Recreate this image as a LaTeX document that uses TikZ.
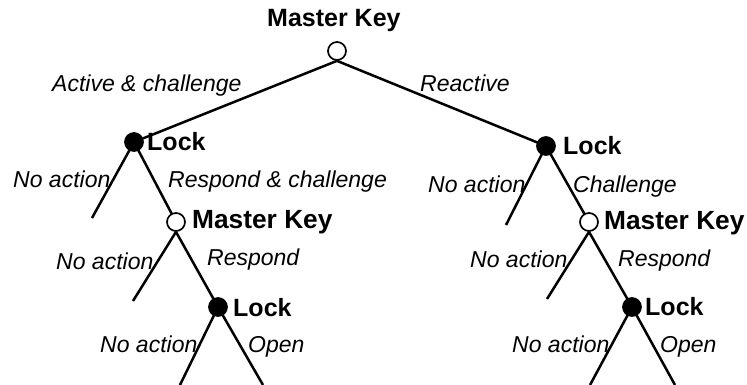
\documentclass[tikz,border=0pt]{standalone}
\usepackage{fontspec}
\setmainfont{Liberation Sans}
\usetikzlibrary{backgrounds}
\begin{document}
\begin{tikzpicture}[x=1pt,y=-1pt,
  player/.style={circle,draw,line width=1.7pt,minimum size=18pt,inner sep=0pt},
  keynode/.style={player,fill=white},
  locknode/.style={player,fill=black},
  who/.style={anchor=base west,inner sep=0pt,font=\fontsize{25}{28}\selectfont\bfseries},
  bigwho/.style={who,font=\fontsize{26.3}{30}\selectfont\bfseries},
  act/.style={anchor=base west,inner sep=0pt,font=\fontsize{23}{26}\selectfont\itshape},
  branch/.style={line width=2.5pt}]
\useasboundingbox (0,0) rectangle (747,385);

% decision nodes
\node[keynode]  (r)   at (337,51)  {};
\node[locknode] (la)  at (134,142) {};
\node[keynode]  (lb)  at (176,222) {};
\node[locknode] (lc)  at (218,307) {};
\node[locknode] (ra)  at (546,146) {};
\node[keynode]  (rb)  at (589,222) {};
\node[locknode] (rc)  at (632,307) {};

% leaf ends
\coordinate (la0) at (92,218);
\coordinate (lb0) at (133,301);
\coordinate (lc0) at (180,385);
\coordinate (lc1) at (263,385);
\coordinate (ra0) at (506,225);
\coordinate (rb0) at (547,299);
\coordinate (rc0) at (590,385);
\coordinate (rc1) at (675,385);

% player names
\node[who]    (tr)  at (267,27)  {Master Key};
\node[who]    (tla) at (147,150) {Lock};
\node[bigwho] (tlb) at (192,228) {Master Key};
\node[who]    (tlc) at (233,316) {Lock};
\node[who]    (tra) at (563,154) {Lock};
\node[bigwho] (trb) at (604,229) {Master Key};
\node[who]    (trc) at (645,315) {Lock};

% actions
\node[act] (a1)  at (52,92)   {Active \& challenge};
\node[act] (a2)  at (420,92)  {Reactive};
\node[act] (a3)  at (13,187)  {No action};
\node[act] (a4)  at (168,187) {Respond \& challenge};
\node[act] (a5)  at (56,269)  {No action};
\node[act] (a6)  at (207,265) {Respond};
\node[act] (a7)  at (100,352) {No action};
\node[act] (a8)  at (248,352) {Open};
\node[act] (a9)  at (428,192) {No action};
\node[act] (a10) at (573,192) {Challenge};
\node[act] (a11) at (470,267) {No action};
\node[act] (a12) at (618,266) {Respond};
\node[act] (a13) at (512,352) {No action};
\node[act] (a14) at (660,352) {Open};

% branches
\begin{scope}[on background layer]
\draw[branch] (r.south) -- (la.center);
\draw[branch] (r.south) -- (ra.center);
\draw[branch] (la.center) -- (la0);
\draw[branch] (la.center) -- (lb.center);
\draw[branch] (lb.south) -- (lb0);
\draw[branch] (lb.south) -- (lc.center);
\draw[branch] (lc.center) -- (lc0);
\draw[branch] (lc.center) -- (lc1);
\draw[branch] (ra.center) -- (ra0);
\draw[branch] (ra.center) -- (rb.center);
\draw[branch] (rb.south) -- (rb0);
\draw[branch] (rb.south) -- (rc.center);
\draw[branch] (rc.center) -- (rc0);
\draw[branch] (rc.center) -- (rc1);
\end{scope}
\end{tikzpicture}
\end{document}
